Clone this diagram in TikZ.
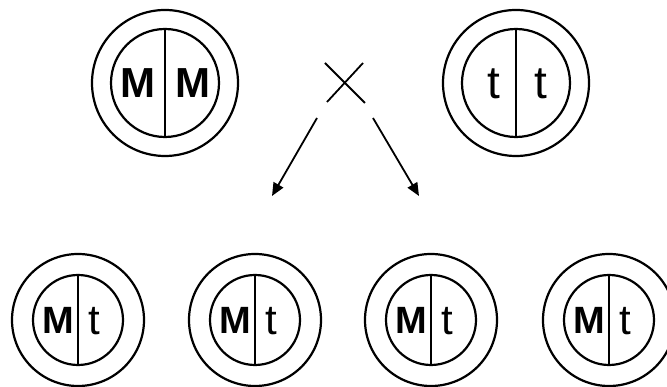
\documentclass[tikz,border=0pt]{standalone}
\usepackage{fontspec}
\setmainfont{Liberation Sans}
\usetikzlibrary{arrows.meta}
\begin{document}
\begin{tikzpicture}[x=1pt,y=1pt,
  ring/.style={circle,draw,line width=2.2pt,inner sep=0pt,minimum size=#1},
  allele/.style={inner sep=0pt,font=\fontsize{#1}{#1}\selectfont},
  divider/.style={line width=1.8pt},
  arr/.style={line width=1.8pt,-{Triangle[length=13pt,width=11pt]}},
  crossline/.style={line width=1.8pt}]
\useasboundingbox (0,0) rectangle (667,387);
\fill[white] (0,0) rectangle (667,387);
% top parents
\node[ring=146pt] (p1o) at (165,304) {};
\node[ring=108pt] (p1i) at (165,304) {};
\draw[divider] (p1i.north) -- (p1i.south);
\node[allele=42] (p1a) at (138,304) {\textbf{M}};
\node[allele=42] (p1b) at (193,304) {\textbf{M}};
\node[ring=146pt] (p2o) at (516,304) {};
\node[ring=108pt] (p2i) at (516,304) {};
\draw[divider] (p2i.north) -- (p2i.south);
\node[allele=46] (p2a) at (494,303) {t};
\node[allele=46] (p2b) at (541,303) {t};
% cross
\coordinate (c1) at (325,324);
\coordinate (c2) at (365,284);
\coordinate (c3) at (363,324);
\coordinate (c4) at (327,285);
\draw[crossline] (c1) -- (c2);
\draw[crossline] (c3) -- (c4);
% arrows
\coordinate (a1s) at (317,269);
\coordinate (a1e) at (272,191);
\coordinate (a2s) at (373,269);
\coordinate (a2e) at (419,191);
\draw[arr] (a1s) -- (a1e);
\draw[arr] (a2s) -- (a2e);
% offspring
\foreach \i/\x in {1/78,2/255,3/431,4/609}{
  \node[ring=132pt] (o\i o) at (\x,67) {};
  \node[ring=90pt] (o\i i) at (\x,67) {};
  \draw[divider] (o\i i.north) -- (o\i i.south);
  \node[allele=38] (o\i a) at (\x-20,67) {\textbf{M}};
  \node[allele=42] (o\i b) at (\x+16,66) {t};
}
\end{tikzpicture}
\end{document}
